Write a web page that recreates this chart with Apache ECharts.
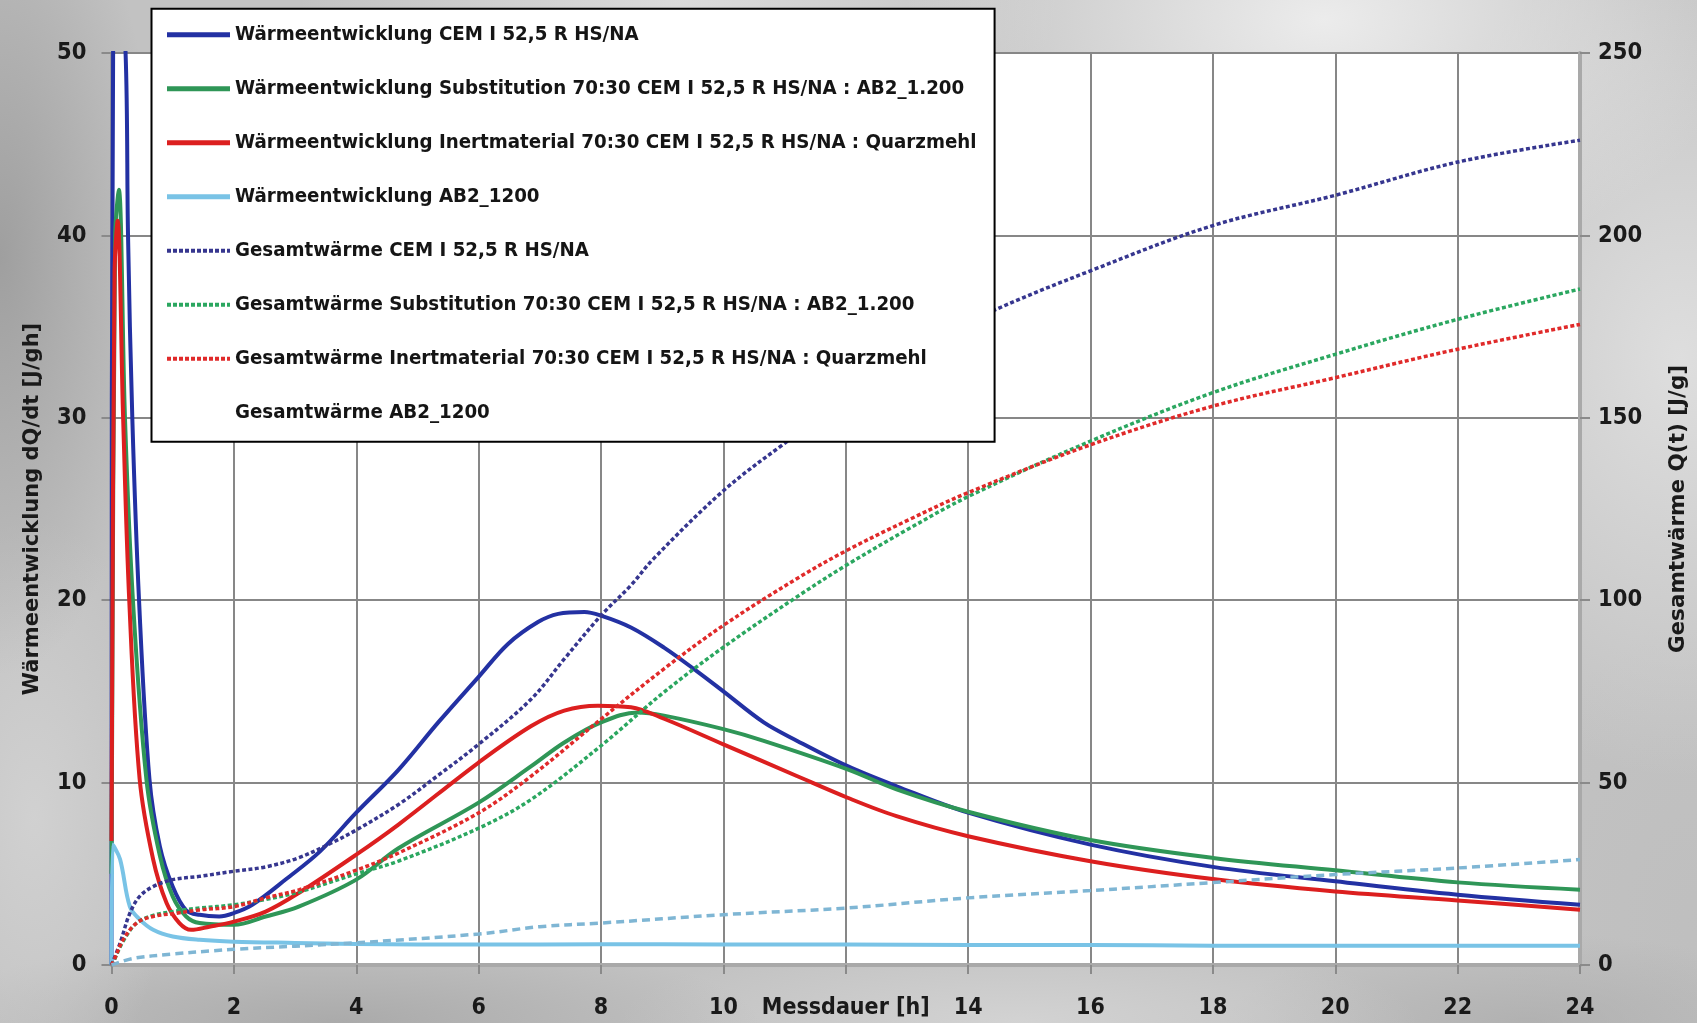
<!DOCTYPE html>
<html>
<head>
<meta charset="utf-8">
<script src="https://cdn.jsdelivr.net/npm/echarts@6/dist/echarts.min.js"></script>
<style>
html,body{margin:0;padding:0;width:1697px;height:1023px;overflow:hidden;}
body{
  background-color:#c2c2c2;
  background-image:
    radial-gradient(ellipse 420px 260px at 78% 2%, rgba(238,238,238,0.95), rgba(238,238,238,0) 100%),
    radial-gradient(ellipse 300px 420px at 99% 35%, rgba(225,225,225,0.9), rgba(225,225,225,0) 100%),
    radial-gradient(ellipse 380px 200px at 40% 0%, rgba(225,225,225,0.8), rgba(225,225,225,0) 100%),
    radial-gradient(ellipse 160px 420px at 0% 25%, rgba(150,150,150,0.8), rgba(150,150,150,0) 100%),
    radial-gradient(ellipse 140px 300px at 2% 80%, rgba(215,215,215,0.7), rgba(215,215,215,0) 100%),
    radial-gradient(ellipse 420px 90px at 20% 100%, rgba(160,160,160,0.7), rgba(160,160,160,0) 100%),
    radial-gradient(ellipse 400px 90px at 60% 100%, rgba(215,215,215,0.8), rgba(215,215,215,0) 100%),
    radial-gradient(ellipse 300px 90px at 90% 100%, rgba(170,170,170,0.7), rgba(170,170,170,0) 100%),
    radial-gradient(ellipse 200px 300px at 100% 90%, rgba(190,190,190,0.8), rgba(190,190,190,0) 100%);
}
#chart{width:1697px;height:1023px;}
</style>
</head>
<body>
<div id="chart"></div>
<script>
// ---- Data (time [h], value) ----
const xTicks = [0, 2, 4, 6, 8, 10, 12, 14, 16, 18, 20, 22, 24];
const xAxisTitle = 'Messdauer [h]';
const leftAxisTitle = 'Wärmeentwicklung dQ/dt [J/gh]';
const rightAxisTitle = 'Gesamtwärme Q(t) [J/g]';

const seriesNames = [
  'Wärmeentwicklung CEM I 52,5 R HS/NA',
  'Wärmeentwicklung Substitution 70:30 CEM I 52,5 R HS/NA : AB2_1.200',
  'Wärmeentwicklung Inertmaterial 70:30 CEM I 52,5 R HS/NA : Quarzmehl',
  'Wärmeentwicklung AB2_1200',
  'Gesamtwärme CEM I 52,5 R HS/NA',
  'Gesamtwärme Substitution 70:30 CEM I 52,5 R HS/NA : AB2_1.200',
  'Gesamtwärme Inertmaterial 70:30 CEM I 52,5 R HS/NA : Quarzmehl',
  'Gesamtwärme AB2_1200'
];

// heat flow dQ/dt [J/gh] (left axis)
const heatCEM = [[0,0],[0.04,62],[0.23,50],[0.27,40],[0.34,30],[0.45,20],[0.62,10.2],[0.79,6.5],[1.0,4.3],[1.22,3.0],[1.44,2.75],[1.76,2.66],[2,2.85],[2.3,3.3],[2.85,4.7],[3.4,6.2],[4,8.35],[4.69,10.7],[5.34,13.3],[6,15.8],[6.48,17.6],[6.97,18.8],[7.3,19.25],[7.73,19.35],[8,19.15],[8.49,18.5],[9.03,17.4],[9.57,16.1],[10,15.0],[10.66,13.3],[11.2,12.3],[12.03,10.9],[12.83,9.8],[14,8.35],[16,6.6],[18,5.38],[20,4.59],[22,3.85],[24,3.3]];
const heatSubst = [[0,5],[0.06,40],[0.12,42.5],[0.22,30],[0.35,20],[0.57,10.2],[0.79,6.0],[1.0,3.76],[1.22,2.66],[1.44,2.3],[2,2.2],[2.52,2.66],[3.06,3.2],[4,4.68],[4.69,6.4],[6,8.9],[6.86,10.9],[7.4,12.2],[8,13.3],[8.6,13.85],[9.03,13.67],[10,12.93],[10.66,12.29],[12.03,10.73],[12.83,9.63],[14,8.4],[16,6.85],[18,5.87],[20,5.19],[22,4.53],[24,4.13]];
const heatInert = [[0,6.8],[0.05,38],[0.1,40.8],[0.19,30],[0.29,20],[0.46,10.2],[0.68,5.8],[0.9,3.4],[1.11,2.3],[1.3,1.93],[1.6,2.1],[2,2.38],[2.52,2.93],[3.06,3.95],[4,6.05],[4.69,7.7],[6,11.1],[6.86,13.1],[7.4,13.95],[7.95,14.22],[8.49,14.13],[9.03,13.5],[10,12.1],[11.2,10.36],[12.03,9.17],[12.83,8.16],[14,7.06],[16,5.69],[18,4.71],[20,4.03],[22,3.54],[24,3.03]];
const heatAB2 = [[0,0],[0.02,6.6],[0.14,5.8],[0.3,3.2],[0.46,2.5],[0.68,1.93],[1.0,1.56],[1.44,1.38],[2,1.28],[3,1.21],[4,1.15],[6,1.12],[8,1.14],[10,1.13],[12,1.12],[14,1.1],[16,1.1],[18,1.06],[20,1.05],[22,1.06],[24,1.05]];

// total heat Q(t) [J/g] (right axis)
const totalCEM = [[0,0],[0.14,6],[0.3,14.2],[0.46,18.8],[0.68,21.5],[1,23.4],[1.44,24.3],[2,25.7],[2.52,26.9],[3.06,29.4],[3.6,33.5],[4,37],[4.69,44],[5.34,52],[6,60.5],[6.86,72.9],[7.4,83.9],[8,95.8],[8.49,104.1],[8.86,111.4],[10,130],[11,143],[12,155],[13,166],[14,175],[14.35,178.9],[16,190.3],[18,202.7],[20,211],[22,220.1],[24,226.1]];
const totalSubst = [[0,0],[0.03,0.8],[0.19,6.5],[0.41,11.5],[0.68,13.6],[1.06,14.8],[1.44,15.6],[2,16.5],[2.52,18],[3.06,20],[4,25],[4.69,28.5],[6,37.5],[6.86,45.4],[8,60.1],[9.03,74.8],[10,87.1],[11.2,100.9],[12,109.5],[13,119.3],[14,128.4],[16,143.6],[18,156.9],[20,167.4],[22,177],[24,185.3]];
const totalInert = [[0,0],[0.03,0.9],[0.19,6.9],[0.41,11.5],[0.68,13.3],[1.06,14.2],[1.44,15.1],[2,16.0],[2.52,18.4],[3.06,20.6],[4,26],[4.69,30.7],[6,41.7],[6.86,51.8],[8,67.4],[9.03,81.2],[10,93.1],[11.2,105.9],[12,113.5],[13,121.8],[14,129.5],[16,142.6],[18,153.2],[20,161],[22,168.8],[24,175.6]];
const totalAB2 = [[0,0],[0.35,1.8],[1.0,3.0],[1.66,3.9],[2,4.3],[4,6.1],[6,8.5],[7,10.5],[8,11.5],[10,13.8],[12,15.6],[14,18.4],[16,20.4],[18,22.6],[20,24.8],[22,26.6],[24,28.9]];

const seriesData = [heatCEM, heatSubst, heatInert, heatAB2, totalCEM, totalSubst, totalInert, totalAB2];
const seriesColors = ['#2331a3', '#2f9657', '#dc1f1f', '#79c3e6', '#36368f', '#2ba760', '#e02a2a', '#7fb6d4'];

// ---- Chart ----
const narrow = '"Liberation Sans Narrow", "Arial Narrow", "DejaVu Sans Condensed", sans-serif';
const wide = '"DejaVu Sans", sans-serif';

const chart = echarts.init(document.getElementById('chart'), null, {renderer: 'canvas'});

const series = seriesData.map((d, i) => {
  const dashed = i >= 4;
  return {
    name: seriesNames[i],
    type: 'line',
    yAxisIndex: dashed ? 1 : 0,
    data: d,
    symbol: 'none',
    smooth: 0.35,
    clip: true,
    lineStyle: {
      color: seriesColors[i],
      width: dashed ? 3.5 : 4,
      type: dashed ? (i === 7 ? [8, 5] : [4, 2.5]) : 'solid'
    },
    itemStyle: {color: seriesColors[i]},
    z: dashed ? 3 : 2
  };
});

const legendData = seriesNames.map((n, i) => {
  if (i === 7) return {name: n, lineStyle: {opacity: 0}};
  return {name: n, lineStyle: {width: i < 4 ? 5 : 4, type: i < 4 ? 'solid' : [4, 2]}};
});

chart.setOption({
  backgroundColor: 'transparent',
  animation: false,
  grid: {left: 111.5, right: 110, top: 53, bottom: 58, show: true, backgroundColor: '#ffffff', borderWidth: 0},
  legend: {
    orient: 'vertical',
    left: 151.5,
    top: 8.7,
    data: legendData,
    itemWidth: 63,
    itemHeight: 14,
    itemGap: 24,
    itemTextGap: 5,
    padding: [11, 18, 14, 13],
    backgroundColor: '#ffffff',
    borderColor: '#000000',
    borderWidth: 2,
    borderRadius: 0,
    selectedMode: false,
    itemStyle: {opacity: 0},
    textStyle: {fontFamily: narrow, fontWeight: 'bold', fontSize: 20.3, lineHeight: 30, color: '#151515'}
  },
  xAxis: {
    type: 'value',
    min: 0, max: 24, interval: 2,
    axisLine: {show: true, onZero: false, lineStyle: {color: '#a9a9a9', width: 4}},
    axisTick: {show: true, length: 9, lineStyle: {color: '#8a8a8a', width: 2}},
    splitLine: {show: true, lineStyle: {color: '#878787', width: 2}},
    axisLabel: {
      margin: 32,
      fontFamily: narrow, fontWeight: 'bold', fontSize: 23, color: '#1a1a1a',
      formatter: v => (v === 12 ? xAxisTitle : String(v))
    }
  },
  yAxis: [
    {
      type: 'value', min: 0, max: 50, interval: 10, position: 'left',
      name: leftAxisTitle, nameLocation: 'middle', nameGap: 68, nameRotate: 90,
      nameTextStyle: {fontFamily: wide, fontWeight: 'bold', fontSize: 21, color: '#1a1a1a'},
      axisLine: {show: true, lineStyle: {color: '#9a9a9a', width: 3}},
      axisTick: {show: true, length: 10, lineStyle: {color: '#8a8a8a', width: 2}},
      splitLine: {show: true, lineStyle: {color: '#878787', width: 2}},
      axisLabel: {margin: 25, fontFamily: narrow, fontWeight: 'bold', fontSize: 23.5, color: '#1a1a1a'}
    },
    {
      type: 'value', min: 0, max: 250, interval: 50, position: 'right',
      name: rightAxisTitle, nameLocation: 'middle', nameGap: 87, nameRotate: 90,
      nameTextStyle: {fontFamily: wide, fontWeight: 'bold', fontSize: 21.5, color: '#1a1a1a'},
      axisLine: {show: true, lineStyle: {color: '#a9a9a9', width: 4}},
      axisTick: {show: true, length: 10, lineStyle: {color: '#8a8a8a', width: 2}},
      splitLine: {show: false},
      axisLabel: {margin: 18, fontFamily: narrow, fontWeight: 'bold', fontSize: 23.5, color: '#1a1a1a'}
    }
  ],
  series: series
});
</script>
</body>
</html>
